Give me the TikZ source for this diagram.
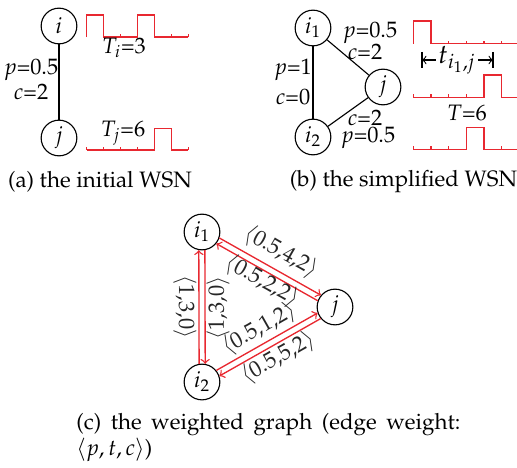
\documentclass[tikz,border=0pt]{standalone}
\usepackage[T1]{fontenc}
\usepackage{mathpazo}
\usepackage{amsmath}
\usepackage{xcolor}
\usetikzlibrary{positioning}
\definecolor{sigred}{RGB}{232,40,48}

\begin{document}
\begin{tikzpicture}[
    x=0.448pt, y=-0.448pt,
    vertex/.style={draw, circle, line width=0.5pt, minimum size=16pt, inner sep=0pt},
    edge/.style={line width=0.5pt},
    sig/.style={sigred, line width=0.6pt},
    warc/.style={->, sigred, line width=0.6pt},
    lbl/.style={inner sep=0pt},
    wlbl/.style={inner sep=0pt, text=black!85},
    subcap/.style={inner sep=0pt}
  ]
  \useasboundingbox (0,0) rectangle (517,468);

  % (a) the initial WSN
  \node[vertex] (ai) at (59,26) {$i$};
  \node[vertex] (aj) at (59,138) {$j$};
  \draw[edge] (ai) -- (aj);
  \node[lbl] (ap) at (31,70) {$p$=0.5};
  \node[lbl] (ac) at (31,92) {$c$=2};
  \draw[sig] (86.7,37) -- (86.7,15) -- (103.65,15) -- (103.65,37) -- (137.55,37)
    -- (137.55,15) -- (154.5,15) -- (154.5,37) -- (188.4,37);
  \foreach \x in {120.6,171.45,188.4}
    \draw[sig] (\x,37) -- (\x,34);
  \node[lbl] (ti) at (124,48) {$T_i$=3};
  \draw[sig] (86.7,150) -- (154.5,150) -- (154.5,128.3) -- (171.45,128.3)
    -- (171.45,150) -- (188.4,150);
  \foreach \x in {86.7,103.65,120.6,137.55,188.4}
    \draw[sig] (\x,150) -- (\x,147);
  \node[lbl] (tj) at (123,133) {$T_j$=6};
  \node[subcap] (capa) at (100,182) {(a)~the initial WSN};

  % (b) the simplified WSN
  \node[vertex] (bi1) at (313,28) {$i_1$};
  \node[vertex] (bi2) at (313,137) {$i_2$};
  \node[vertex] (bj) at (383,87) {$j$};
  \draw[edge] (bi1) -- (bi2);
  \draw[edge] (bi1) -- (bj);
  \draw[edge] (bi2) -- (bj);
  \node[lbl] (bp1) at (370,33) {$p$=0.5};
  \node[lbl] (bc1) at (365,52) {$c$=2};
  \node[lbl] (bp2) at (293,70) {$p$=1};
  \node[lbl] (bc2) at (293,97) {$c$=0};
  \node[lbl] (bc3) at (365,118) {$c$=2};
  \node[lbl] (bp3) at (368,138) {$p$=0.5};
  \draw[sig] (413.3,43.7) -- (413.3,21) -- (431,21) -- (431,43.7) -- (517,43.7);
  \foreach \x in {448.7,466.4,484.1,501.8}
    \draw[sig] (\x,43.7) -- (\x,40.7);
  \draw[sig] (413.3,97.3) -- (484.1,97.3) -- (484.1,75) -- (501.8,75)
    -- (501.8,97.3) -- (517,97.3);
  \foreach \x in {413.3,431,448.7,466.4}
    \draw[sig] (\x,97.3) -- (\x,94.3);
  \draw[sig] (413.3,149.3) -- (466.4,149.3) -- (466.4,127.3) -- (484.1,127.3)
    -- (484.1,149.3) -- (517,149.3);
  \foreach \x in {413.3,431,448.7,501.8}
    \draw[sig] (\x,149.3) -- (\x,146.3);
  \coordinate (tl) at (422,60);
  \coordinate (tr) at (493,60);
  \draw[edge] ([yshift=3.6pt]tl) -- ([yshift=-3.6pt]tl);
  \draw[edge] ([yshift=3.6pt]tr) -- ([yshift=-3.6pt]tr);
  \node[lbl, inner xsep=1pt, font=\large] (tlab) at (457,60) {$t_{i_1,j}$};
  \draw[edge, ->] (tlab) -- (tl);
  \draw[edge, ->] (tlab) -- (tr);
  \node[lbl] (tb) at (467,113) {$T$=6};
  \node[subcap] (capb) at (403.5,182) {(b)~the simplified WSN};

  % (c) the weighted graph
  \node[vertex] (ci1) at (202,232) {$i_1$};
  \node[vertex] (ci2) at (202,382) {$i_2$};
  \node[vertex] (cj) at (335,307) {$j$};
  \draw[warc] (ci2.99.9) -- (ci1.260.1);
  \draw[warc] (ci1.279.9) -- (ci2.80.1);
  \draw[warc] (ci1.-19.6) -- (cj.140.6);
  \draw[warc] (cj.160.4) -- (ci1.-39.4);
  \draw[warc] (ci2.39.4) -- (cj.199.6);
  \draw[warc] (cj.219.4) -- (ci2.19.6);
  \node[wlbl, rotate=-90] (w1) at (185,307) {$\langle$1,3,0$\rangle$};
  \node[wlbl, rotate=90] (w2) at (218,308) {$\langle$1,3,0$\rangle$};
  \node[wlbl, rotate=-29.5] (w3) at (281,252) {$\langle$0.5,4,2$\rangle$};
  \node[wlbl, rotate=-29.5] (w4) at (262,281) {$\langle$0.5,2,2$\rangle$};
  \node[wlbl, rotate=29.5] (w5) at (259,329) {$\langle$0.5,1,2$\rangle$};
  \node[wlbl, rotate=29.5] (w6) at (278,358) {$\langle$0.5,5,2$\rangle$};
  \node[subcap, anchor=north west, text width=172pt, align=justify,
    font=\fontsize{10}{9}\selectfont] (capc) at (76,413)
    {(c)~the weighted graph (edge weight:\linebreak $\langle p,t,c\rangle$)};
\end{tikzpicture}
\end{document}
